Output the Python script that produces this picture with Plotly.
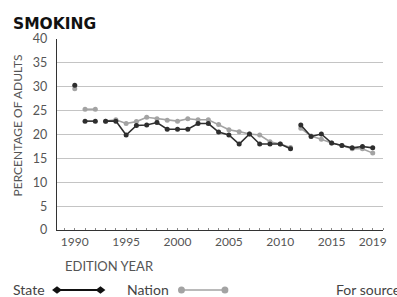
import plotly.graph_objects as go

years = list(range(1990, 2020))
state = [30.3, 22.8, 22.8, 22.8, 22.8, 19.9, 21.9, 22.0, 22.5, 21.1, 21.1, 21.1, 22.3, 22.3,
         20.5, 19.9, 18.0, 20.1, 18.0, 18.0, 18.0, 17.0, 22.0, 19.6, 20.1, 18.2, 17.7, 17.2, 17.5, 17.2]
nation = [29.6, 25.3, 25.3, 22.8, 23.1, 22.3, 22.7, 23.6, 23.3, 23.0, 22.8, 23.3, 23.1, 23.1,
          22.1, 21.0, 20.6, 20.1, 19.9, 18.5, 18.0, 17.3, 21.3, 19.7, 19.0, 18.2, 17.7, 17.0, 17.0, 16.1]
# years that start a new (unconnected) line segment
segment_starts = [1990, 1991, 1993, 2012]
x_ticks = [1990, 1995, 2000, 2005, 2010, 2015, 2019]
y_ticks = [0, 5, 10, 15, 20, 25, 30, 35, 40]

STATE_C = "#2e2e2e"
NATION_C = "#a3a3a3"
FONT = "Lato"


def split(xs, ys):
    ox, oy = [], []
    for x, y in zip(xs, ys):
        if x in segment_starts and ox:
            ox.append(None)
            oy.append(None)
        ox.append(x)
        oy.append(y)
    return ox, oy


fig = go.Figure()
nx, ny = split(years, nation)
sx, sy = split(years, state)
fig.add_trace(go.Scatter(x=nx, y=ny, mode="lines+markers", connectgaps=False,
                         line=dict(color=NATION_C, width=1.6),
                         marker=dict(color=NATION_C, size=5), showlegend=False))
fig.add_trace(go.Scatter(x=sx, y=sy, mode="lines+markers", connectgaps=False,
                         line=dict(color=STATE_C, width=1.6),
                         marker=dict(color=STATE_C, size=5), showlegend=False))

L, R, T, B = 57, 10, 39, 67
W, H = 397, 297
pw, ph = W - L - R, H - T - B


def px(x):
    return (x - L) / pw


def py(y):
    return (H - B - y) / ph


annotations = [
    dict(text="<b>SMOKING</b>", x=px(10), y=py(24.5), xanchor="left", yanchor="middle",
         font=dict(family="DejaVu Sans", size=15.5, color="#111111")),
    dict(text="PERCENTAGE OF ADULTS", x=px(17), y=py(125), textangle=-90,
         xanchor="center", yanchor="middle",
         font=dict(family=FONT, size=12, color="#555555")),
    dict(text="EDITION YEAR", x=px(63), y=py(266), xanchor="left", yanchor="middle",
         font=dict(family=FONT, size=13, color="#555555")),
    dict(text="State", x=px(10), y=py(289), xanchor="left", yanchor="middle",
         font=dict(family=FONT, size=14, color="#444444")),
    dict(text="Nation", x=px(126), y=py(289), xanchor="left", yanchor="middle",
         font=dict(family=FONT, size=14, color="#444444")),
    dict(text="For sources, see notes", x=px(337), y=py(289), xanchor="left", yanchor="middle",
         font=dict(family=FONT, size=14, color="#444444")),
]
for a in annotations:
    a.update(xref="paper", yref="paper", showarrow=False)

shapes = []


def diamond(cx, cy, r):
    pts = [(cx - r, cy), (cx, cy - r * 0.75), (cx + r, cy), (cx, cy + r * 0.75)]
    return "M " + " L ".join(f"{px(a):.4f},{py(b):.4f}" for a, b in pts) + " Z"


shapes.append(dict(type="line", x0=px(57), x1=px(101), y0=py(290), y1=py(290),
                   line=dict(color="#111111", width=2)))
for cx in (57, 101):
    shapes.append(dict(type="path", path=diamond(cx, 290, 5), fillcolor="#111111",
                       line=dict(color="#111111", width=0)))
shapes.append(dict(type="line", x0=px(183), x1=px(227), y0=py(290), y1=py(290),
                   line=dict(color=NATION_C, width=1.5)))
for cx in (183, 227):
    shapes.append(dict(type="circle", x0=px(cx - 3.5), x1=px(cx + 3.5), y0=py(293.5), y1=py(286.5),
                       fillcolor=NATION_C, line=dict(color=NATION_C, width=0)))
for s in shapes:
    s.update(xref="paper", yref="paper")

fig.update_layout(
    width=W, height=H,
    margin=dict(l=L, r=R, t=T, b=B),
    paper_bgcolor="white", plot_bgcolor="white",
    annotations=annotations, shapes=shapes,
    font=dict(family=FONT, color="#555555"),
    xaxis=dict(range=[1988.27, 2020], tickvals=x_ticks, ticktext=[str(v) for v in x_ticks],
               showgrid=False, zeroline=False, showline=True, linecolor="#333333", linewidth=1.3,
               ticks="", tickfont=dict(family=FONT, size=12, color="#555555"),
               minor=dict(ticks="inside", ticklen=2, tickcolor="#888888", dtick=1, tick0=1990),
               fixedrange=True),
    yaxis=dict(range=[0, 40], tickvals=y_ticks, showgrid=True, gridcolor="#c4c4c4", gridwidth=1,
               zeroline=False, showline=True, linecolor="#333333", linewidth=1.3, ticks="",
               ticklabelstandoff=6,
               tickfont=dict(family=FONT, size=12.5, color="#555555"), fixedrange=True),
)

fig.write_html("out.html", config=dict(displayModeBar=False),
               post_script="document.body.style.margin='0';document.body.style.overflow='hidden';")
